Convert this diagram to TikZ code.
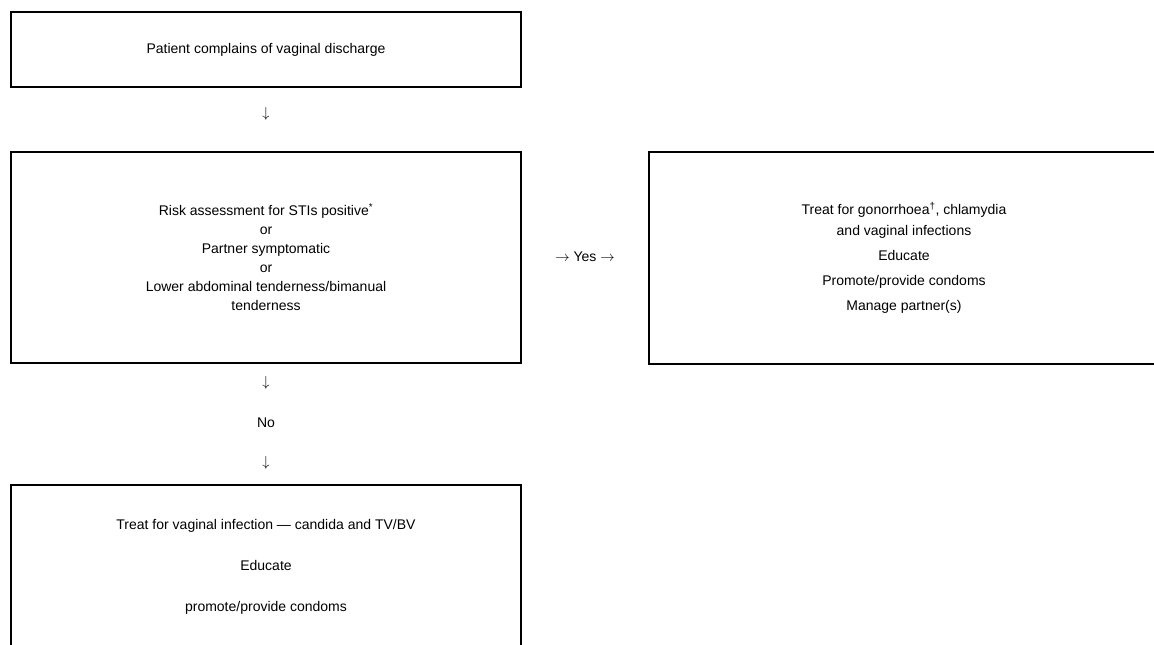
\documentclass[tikz,border=0pt]{standalone}
\usepackage{fontspec}
\setmainfont{Liberation Sans}
\begin{document}
\begin{tikzpicture}[x=1pt,y=-1pt]
\tikzset{
  box/.style={draw, line width=1.7pt, minimum width=510pt, align=center, inner sep=0pt, font=\fontsize{14}{19}\selectfont},
  lbl/.style={inner sep=0pt, font=\fontsize{14}{19}\selectfont}
}
\clip (0,0) rectangle (1154,645);
\fill[white] (0,0) rectangle (1154,645);
\node[box, minimum height=75pt] (b1) at (266,49.5) {Patient complains of vaginal discharge};
\node[lbl] (a1) at (266,114) {$\downarrow$};
\node[box, minimum height=211pt] (b2) at (266,257.5) {Risk assessment for STIs positive\textsuperscript{*}\\or\\Partner symptomatic\\or\\Lower abdominal tenderness/bimanual\\tenderness};
\node[lbl] (yes) at (585,257) {$\rightarrow$ Yes $\rightarrow$};
\node[box, minimum height=212pt] (b3) at (904,258) {Treat for gonorrhoea\textsuperscript{\textdagger}, chlamydia\\[2pt]and vaginal infections\\[6pt]Educate\\[6pt]Promote/provide condoms\\[6pt]Manage partner(s)};
\node[lbl] (a2) at (266,383) {$\downarrow$};
\node[lbl] (no) at (266,423) {No};
\node[lbl] (a3) at (266,463) {$\downarrow$};
\node[box, minimum height=164pt] (b4) at (266,567) {Treat for vaginal infection — candida and TV/BV\\[22pt]Educate\\[22pt]promote/provide condoms};
\end{tikzpicture}
\end{document}
